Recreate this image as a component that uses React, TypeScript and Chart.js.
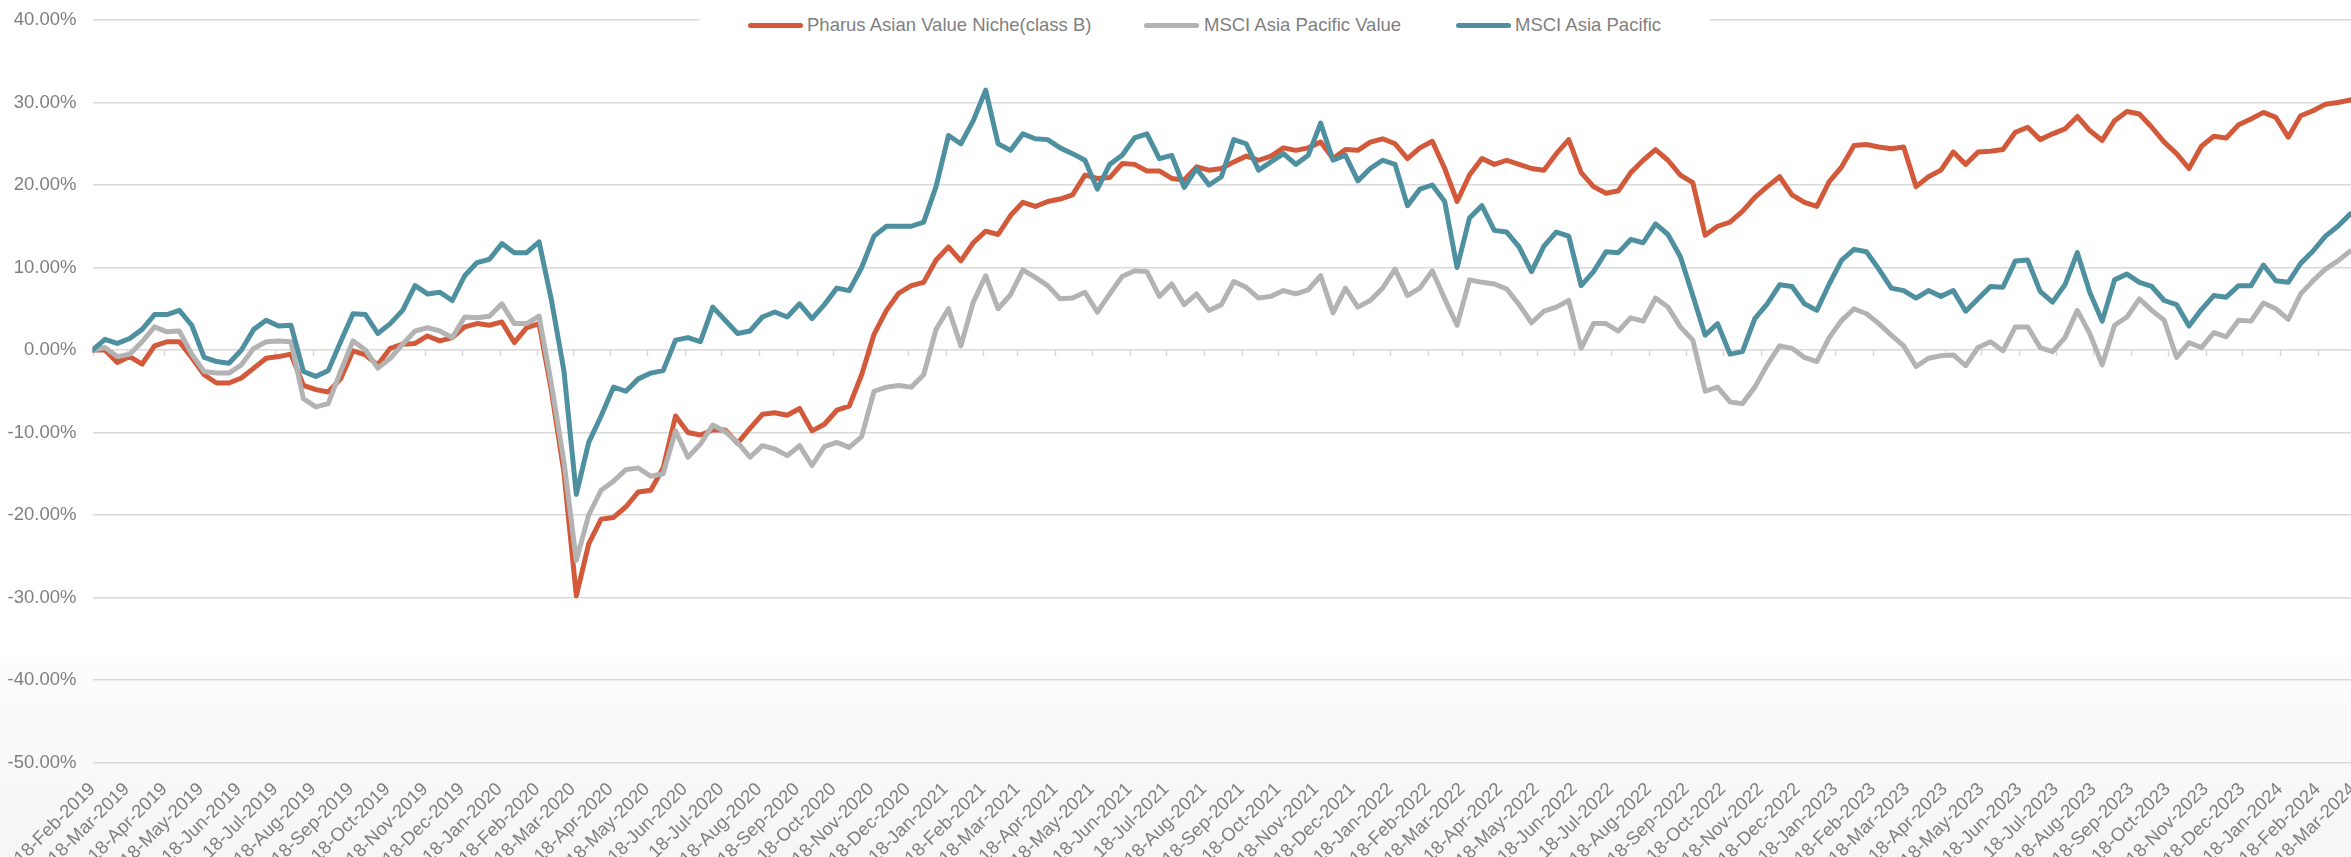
import React, { useEffect, useRef } from "react";
import { Chart, registerables } from "chart.js";

Chart.register(...registerables);

const SERIES_NAMES = [
  "Pharus Asian Value Niche(class B)",
  "MSCI Asia Pacific Value",
  "MSCI Asia Pacific",
];

const COLORS = ["#D25A3B", "#B3B3B3", "#4E8FA0"];

const TICK_LABELS = [
  "18-Feb-2019", "18-Mar-2019", "18-Apr-2019", "18-May-2019", "18-Jun-2019", "18-Jul-2019",
  "18-Aug-2019", "18-Sep-2019", "18-Oct-2019", "18-Nov-2019", "18-Dec-2019", "18-Jan-2020",
  "18-Feb-2020", "18-Mar-2020", "18-Apr-2020", "18-May-2020", "18-Jun-2020", "18-Jul-2020",
  "18-Aug-2020", "18-Sep-2020", "18-Oct-2020", "18-Nov-2020", "18-Dec-2020", "18-Jan-2021",
  "18-Feb-2021", "18-Mar-2021", "18-Apr-2021", "18-May-2021", "18-Jun-2021", "18-Jul-2021",
  "18-Aug-2021", "18-Sep-2021", "18-Oct-2021", "18-Nov-2021", "18-Dec-2021", "18-Jan-2022",
  "18-Feb-2022", "18-Mar-2022", "18-Apr-2022", "18-May-2022", "18-Jun-2022", "18-Jul-2022",
  "18-Aug-2022", "18-Sep-2022", "18-Oct-2022", "18-Nov-2022", "18-Dec-2022", "18-Jan-2023",
  "18-Feb-2023", "18-Mar-2023", "18-Apr-2023", "18-May-2023", "18-Jun-2023", "18-Jul-2023",
  "18-Aug-2023", "18-Sep-2023", "18-Oct-2023", "18-Nov-2023", "18-Dec-2023", "18-Jan-2024",
  "18-Feb-2024", "18-Mar-2024",
];

// values sampled about every 10.18 days (1/3 month) from 18-Feb-2019, cumulative return in %
const SAMPLE_STEP_DAYS = 10.18;

const PHARUS = [
  0, 0, -1.5, -0.8, -1.7, 0.5, 1.0, 1.0, -0.9, -3.0,
  -4.0, -4.0, -3.4, -2.2, -1.0, -0.8, -0.5, -4.3, -4.8, -5.1,
  -3.5, -0.1, -0.6, -1.8, 0.2, 0.7, 0.8, 1.7, 1.1, 1.5,
  2.8, 3.2, 3.0, 3.4, 0.9, 2.7, 3.2, -5.0, -14.8, -29.8,
  -23.5, -20.5, -20.3, -19.0, -17.2, -17.0, -14.3, -8.0, -10.0, -10.3,
  -9.7, -9.7, -11.3, -9.5, -7.8, -7.6, -7.9, -7.1, -9.8, -9.0,
  -7.3, -6.8, -3.0, 1.9, 4.8, 6.9, 7.8, 8.2, 10.9, 12.5,
  10.8, 13.0, 14.4, 14.0, 16.3, 17.9, 17.4, 18.0, 18.3, 18.8,
  21.2, 20.8, 20.9, 22.6, 22.5, 21.7, 21.7, 20.8, 20.6, 22.2,
  21.8, 22.0, 22.8, 23.5, 23.0, 23.5, 24.5, 24.2, 24.5, 25.2,
  23.2, 24.3, 24.2, 25.2, 25.6, 25.0, 23.2, 24.5, 25.3, 22.0,
  18.0, 21.2, 23.2, 22.5, 23.0, 22.5, 22.0, 21.8, 23.8, 25.5,
  21.5, 19.8, 19.0, 19.3, 21.5, 23.0, 24.3, 23.0, 21.2, 20.3,
  13.9, 15.0, 15.5, 16.8, 18.5, 19.8, 21.0, 18.8, 17.9, 17.4,
  20.4, 22.2, 24.8, 24.9, 24.6, 24.4, 24.6, 19.8, 21.0, 21.8,
  24.0, 22.5, 24.0, 24.1, 24.3, 26.4, 27.0, 25.5, 26.2, 26.8,
  28.3, 26.6, 25.4, 27.8, 28.9, 28.6, 27.0, 25.2, 23.8, 22.0,
  24.7, 25.9, 25.7, 27.3, 28.0, 28.8, 28.2, 25.8, 28.4, 29.0,
  29.8, 30.0, 30.3, 31.0,
];

const MSCI_APAC_VALUE = [
  0, 0.3, -0.8, -0.5, 1.0, 2.8, 2.2, 2.3, -0.5, -2.6,
  -2.8, -2.8, -1.8, 0.2, 1.0, 1.1, 1.0, -5.9, -6.9, -6.5,
  -2.6, 1.1, 0, -2.2, -1.0, 0.7, 2.3, 2.7, 2.3, 1.5,
  4.0, 3.9, 4.1, 5.6, 3.2, 3.2, 4.1, -4.2, -13.5, -25.5,
  -20.0, -17.0, -15.9, -14.5, -14.3, -15.3, -15.0, -9.8, -13.0, -11.4,
  -9.1, -9.9, -11.2, -13.0, -11.6, -12.0, -12.8, -11.6, -14.0, -11.7,
  -11.2, -11.8, -10.5, -5.0, -4.5, -4.3, -4.5, -3.0, 2.5, 5.0,
  0.5, 5.8, 9.0, 5.0, 6.7, 9.7, 8.8, 7.8, 6.2, 6.3,
  7.0, 4.6, 6.8, 8.9, 9.6, 9.5, 6.5, 8.0, 5.5, 6.8,
  4.8, 5.5, 8.3, 7.6, 6.3, 6.5, 7.2, 6.8, 7.3, 9.0,
  4.5, 7.5, 5.2, 6.0, 7.5, 9.8, 6.6, 7.5, 9.6, 6.2,
  3.0, 8.5, 8.2, 8.0, 7.4, 5.5, 3.3, 4.7, 5.2, 6.0,
  0.2, 3.2, 3.2, 2.3, 3.9, 3.5, 6.3, 5.2, 2.8, 1.2,
  -5.0, -4.5, -6.3, -6.5, -4.5, -1.8, 0.5, 0.2, -0.9, -1.4,
  1.5, 3.6, 5.0, 4.4, 3.2, 1.8, 0.5, -2.0, -1.0, -0.7,
  -0.6, -1.9, 0.3, 1.0, -0.1, 2.8, 2.8, 0.3, -0.2, 1.5,
  4.8, 2.0, -1.8, 3.0, 4.0, 6.2, 4.8, 3.6, -0.9, 0.9,
  0.3, 2.1, 1.6, 3.6, 3.5, 5.7, 5.0, 3.7, 6.8, 8.4,
  9.8, 10.8, 12.0, 11.3,
];

const MSCI_APAC = [
  0, 1.3, 0.8, 1.4, 2.5, 4.3, 4.3, 4.8, 3.0, -0.9,
  -1.4, -1.6, 0, 2.5, 3.6, 2.9, 3.0, -2.6, -3.2, -2.5,
  1.0, 4.4, 4.3, 2.0, 3.2, 4.8, 7.8, 6.8, 7.0, 6.0,
  9.0, 10.6, 11.0, 12.9, 11.8, 11.8, 13.1, 6.0, -2.5, -17.5,
  -11.2, -8.0, -4.5, -5.0, -3.5, -2.8, -2.5, 1.2, 1.5, 1.0,
  5.2, 3.6, 2.0, 2.3, 4.0, 4.6, 4.0, 5.6, 3.8, 5.5,
  7.5, 7.2, 10.0, 13.8, 15.0, 15.0, 15.0, 15.5, 19.8, 26.0,
  25.0, 27.8, 31.5, 25.0, 24.2, 26.2, 25.6, 25.5, 24.5, 23.8,
  23.0, 19.5, 22.5, 23.6, 25.7, 26.2, 23.2, 23.6, 19.7, 22.0,
  20.0, 21.0, 25.5, 25.0, 21.8, 22.8, 23.8, 22.5, 23.6, 27.5,
  23.0, 23.6, 20.5, 22.0, 23.0, 22.5, 17.5, 19.5, 20.0, 18.0,
  10.0, 16.0, 17.5, 14.5, 14.3, 12.5, 9.5, 12.6, 14.3, 13.8,
  7.8, 9.5, 11.9, 11.8, 13.4, 13.0, 15.3, 14.0, 11.3, 6.6,
  1.8, 3.2, -0.5, -0.2, 3.8, 5.6, 7.9, 7.7, 5.6, 4.8,
  8.0, 10.9, 12.2, 11.9, 9.8, 7.5, 7.2, 6.3, 7.2, 6.5,
  7.2, 4.7, 6.2, 7.7, 7.6, 10.8, 10.9, 7.1, 5.8, 7.9,
  11.8, 7.0, 3.5, 8.5, 9.2, 8.2, 7.7, 6.0, 5.5, 2.9,
  4.9, 6.6, 6.4, 7.8, 7.8, 10.3, 8.4, 8.2, 10.5, 12.0,
  13.8, 15.0, 16.5, 16.0,
];

const Y_MIN = -50;
const Y_MAX = 40;
const Y_STEP = 10;

const FONT_FAMILY = "'Liberation Sans', Arial, Helvetica, sans-serif";
const TEXT_COLOR = "#7f7f7f";
const GRID_COLOR = "#d9d9d9";

const W = 2351;
const H = 857;
const CANVAS_W = 2353;

const MONTHS: Record<string, number> = {
  Jan: 0, Feb: 1, Mar: 2, Apr: 3, May: 4, Jun: 5,
  Jul: 6, Aug: 7, Sep: 8, Oct: 9, Nov: 10, Dec: 11,
};
const labelToUTC = (s: string) => {
  const [d, m, y] = s.split("-");
  return Date.UTC(Number(y), MONTHS[m], Number(d));
};
const T0 = labelToUTC(TICK_LABELS[0]);
const TICK_DAYS = TICK_LABELS.map((s) => (labelToUTC(s) - T0) / 86400000);

const toPoints = (arr: number[]) =>
  arr.map((v, i) => ({ x: i * SAMPLE_STEP_DAYS, y: v }));

const zeroTicksPlugin = {
  id: "zeroTicks",
  beforeDatasetsDraw(chart: any) {
    const { ctx, scales } = chart;
    const x = scales.x;
    const y = scales.y;
    const y0 = y.getPixelForValue(0);
    ctx.save();
    ctx.strokeStyle = GRID_COLOR;
    ctx.lineWidth = 1.5;
    x.ticks.forEach((t: any) => {
      const px = Math.round(x.getPixelForValue(t.value)) + 0.5;
      ctx.beginPath();
      ctx.moveTo(px, y0);
      ctx.lineTo(px, y0 + 6);
      ctx.stroke();
    });
    ctx.restore();
  },
};

function LineChart() {
  const ref = useRef<HTMLCanvasElement | null>(null);
  useEffect(() => {
    if (!ref.current) return;
    const all = [PHARUS, MSCI_APAC_VALUE, MSCI_APAC];
    const drawOrder = [2, 1, 0];
    const chart = new Chart(ref.current, {
      type: "line",
      data: {
        datasets: all.map((arr, k) => ({
          label: SERIES_NAMES[k],
          data: toPoints(arr),
          borderColor: COLORS[k],
          backgroundColor: COLORS[k],
          borderWidth: 5,
          pointRadius: 0,
          tension: 0,
          fill: false,
          borderJoinStyle: "round",
          borderCapStyle: "round",
          order: drawOrder[k],
        })),
      },
      options: {
        animation: false,
        responsive: false,
        devicePixelRatio: 1,
        layout: { padding: { top: 20, left: 0, right: 0, bottom: 0 } },
        plugins: {
          legend: { display: false },
          tooltip: { enabled: false },
        },
        scales: {
          x: {
            type: "linear",
            min: 0,
            max: TICK_DAYS[TICK_DAYS.length - 1],
            afterBuildTicks: (s: any) => {
              s.ticks = TICK_DAYS.map((d) => ({ value: d }));
            },
            afterFit: (s: any) => {
              s.height = H - 762.5;
              s.paddingLeft = 0;
              s.paddingRight = 0;
            },
            ticks: {
              autoSkip: false,
              minRotation: 45,
              maxRotation: 45,
              padding: 16,
              color: TEXT_COLOR,
              font: { family: FONT_FAMILY, size: 18.5 },
              callback: (_v: any, idx: number) => TICK_LABELS[idx],
            },
            grid: { display: false, drawTicks: false },
            border: { display: false },
          },
          y: {
            min: Y_MIN,
            max: Y_MAX,
            afterFit: (s: any) => {
              s.width = 92.5;
              s.paddingTop = 0;
              s.paddingBottom = 0;
            },
            ticks: {
              stepSize: Y_STEP,
              padding: 16,
              color: TEXT_COLOR,
              font: { family: FONT_FAMILY, size: 18.5 },
              callback: (v: any) => Number(v).toFixed(2) + "%",
            },
            grid: { color: GRID_COLOR, lineWidth: 1.5, drawTicks: false },
            border: { display: false },
          },
        },
      },
      plugins: [zeroTicksPlugin],
    } as any);
    return () => chart.destroy();
  }, []);
  return (
    <canvas
      ref={ref}
      width={CANVAS_W}
      height={H}
      style={{ position: "absolute", left: 0, top: 0, width: CANVAS_W, height: H }}
    />
  );
}

const LEGEND_ITEMS = [
  { lineLeft: 748, textLeft: 807 },
  { lineLeft: 1144, textLeft: 1204 },
  { lineLeft: 1456, textLeft: 1515 },
];

export default function App() {
  return (
    <div
      style={{
        position: "fixed",
        left: 0,
        top: 0,
        width: W,
        height: H,
        overflow: "hidden",
        background:
          "linear-gradient(to bottom, #ffffff 0px, #ffffff 652px, #fcfcfc 660px, #f6f6f6 857px)",
      }}
    >
      <LineChart />
      <div
        style={{
          position: "absolute",
          left: 700,
          top: 8,
          width: 1010,
          height: 36,
          background: "#ffffff",
        }}
      />
      {LEGEND_ITEMS.map((it, k) => (
        <React.Fragment key={k}>
          <div
            style={{
              position: "absolute",
              left: it.lineLeft,
              top: 23,
              width: 55,
              height: 5,
              borderRadius: 3,
              background: COLORS[k],
            }}
          />
          <span
            style={{
              position: "absolute",
              left: it.textLeft,
              top: 14,
              lineHeight: "22px",
              fontFamily: FONT_FAMILY,
              fontSize: "18.5px",
              color: TEXT_COLOR,
              whiteSpace: "nowrap",
            }}
          >
            {SERIES_NAMES[k]}
          </span>
        </React.Fragment>
      ))}
    </div>
  );
}
